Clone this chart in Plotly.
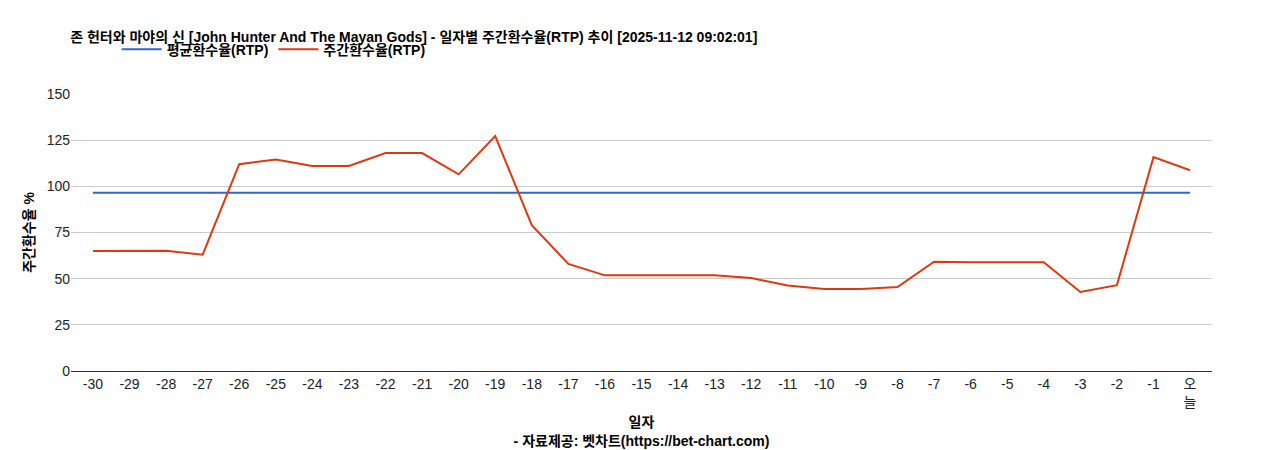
import plotly.graph_objects as go

days = [str(i) for i in range(-30, 0)] + ["오<br>늘"]
rtp = [65, 65.2, 65.1, 63, 112, 114.5, 111, 111, 118, 118, 106.5, 127.2, 79, 58, 51.8, 51.8, 51.8, 51.8, 50.3, 46.3, 44.4, 44.4, 45.5, 59.2, 58.9, 58.9, 58.9, 42.8, 46.5, 115.8, 108.7]
avg = [96.5] * len(days)

fig = go.Figure()
fig.add_trace(go.Scatter(x=days, y=avg, mode="lines", name="<b>평균환수율(RTP)</b>", line=dict(color="#3366CC", width=2)))
fig.add_trace(go.Scatter(x=days, y=rtp, mode="lines", name="<b>주간환수율(RTP)</b>", line=dict(color="#DC3912", width=2)))
fig.update_layout(
    width=1268, height=450, plot_bgcolor="white", paper_bgcolor="white",
    font=dict(family="Liberation Sans, Noto Sans CJK KR, Arial", size=14, color="#222"),
    title=dict(text="<b>존 헌터와 마야의 신 [John Hunter And The Mayan Gods] - 일자별 주간환수율(RTP) 추이 [2025-11-12 09:02:01]</b>",
               x=0.049, xanchor="left", y=0.935, yanchor="middle", font=dict(size=14, color="#000")),
    legend=dict(orientation="h", x=0.04, xanchor="left", y=1.16, yanchor="middle", font=dict(size=14, color="#000"), itemwidth=40),
    margin=dict(l=63, r=64, t=86, b=87),
    showlegend=True,
)
fig.update_xaxes(title=dict(text="<b>일자</b><br><b>- 자료제공: 벳차트(https://bet-chart.com)</b>", font=dict(size=14, color="#000"), standoff=8),
                 showline=True, linecolor="#333", tickfont=dict(size=14, color="#222"), ticks="", range=[-0.6, 30.6], automargin=False)
fig.update_yaxes(title=dict(text="<b>주간환수율 %</b>", font=dict(size=14, color="#000"), standoff=8), range=[0, 150], dtick=25,
                 gridcolor="#ccc", tickfont=dict(size=14, color="#222"), zeroline=False, automargin=False)
fig.write_html("out.html")
